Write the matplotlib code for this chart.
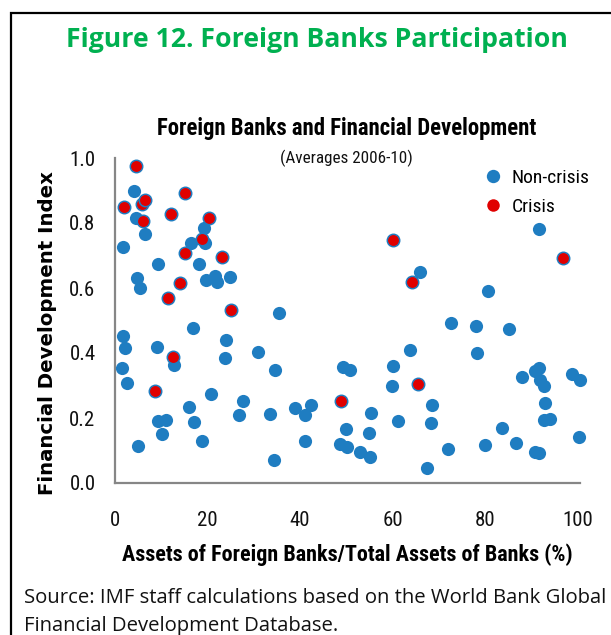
import matplotlib
matplotlib.use("Agg")
import matplotlib.pyplot as plt
from matplotlib import font_manager
from matplotlib.patches import Rectangle
from matplotlib.lines import Line2D

def pick(*names):
    avail = {f.name for f in font_manager.fontManager.ttflist}
    for n in names:
        if n in avail:
            return n
    return "DejaVu Sans"

NARROW = pick("Liberation Sans Narrow", "Roboto Condensed", "Open Sans Condensed", "Liberation Sans")
HUMAN = pick("Open Sans", "Lato", "Noto Sans")

# ---- data ----
noncrisis_x = [4.0, 4.5, 6.5, 19.2, 16.5, 19.4, 1.8, 9.2, 18.2, 4.7, 5.3, 19.7, 21.7, 22.0, 24.9,
               35.5, 16.8, 1.65, 2.2, 9.0, 12.7, 23.9, 23.8, 31.0, 34.5, 1.44, 2.7, 20.7, 27.6,
               26.9, 33.5, 16.0, 9.4, 11.0, 17.0, 10.2, 18.7, 4.9, 34.3, 65.9, 49.3, 50.8, 60.1,
               63.8, 59.8, 38.8, 42.3, 41.0, 55.4, 50.0, 55.0, 61.2, 41.0, 48.6, 50.1, 53.0, 55.1,
               67.5, 68.6, 68.4, 91.6, 80.6, 72.6, 78.1, 85.1, 78.3, 88.0, 90.7, 91.7, 91.9, 92.7,
               98.7, 100.4, 92.9, 92.7, 94.0, 83.7, 100.2, 71.9, 79.9, 86.7, 90.7, 91.7]
noncrisis_y = [0.90, 0.816, 0.766, 0.784, 0.738, 0.74, 0.727, 0.673, 0.675, 0.632, 0.599, 0.625,
               0.638, 0.617, 0.635, 0.524, 0.476, 0.453, 0.414, 0.419, 0.362, 0.44, 0.384, 0.404,
               0.348, 0.354, 0.307, 0.274, 0.252, 0.210, 0.212, 0.233, 0.192, 0.193, 0.189, 0.151,
               0.129, 0.115, 0.071, 0.648, 0.357, 0.348, 0.361, 0.408, 0.297, 0.231, 0.240, 0.208,
               0.214, 0.167, 0.153, 0.192, 0.130, 0.120, 0.112, 0.094, 0.079, 0.047, 0.239, 0.184,
               0.781, 0.592, 0.492, 0.484, 0.474, 0.399, 0.325, 0.346, 0.355, 0.317, 0.298, 0.336,
               0.318, 0.246, 0.193, 0.196, 0.168, 0.142, 0.105, 0.117, 0.124, 0.095, 0.091]
crisis_x = [4.5, 2.0, 5.8, 6.4, 15.1, 6.05, 12.2, 20.3, 18.9, 15.1, 23.2, 14.0, 11.5, 25.1, 12.5,
            8.6, 60.0, 64.1, 65.4, 48.8, 96.8]
crisis_y = [0.975, 0.85, 0.86, 0.87, 0.893, 0.806, 0.828, 0.816, 0.75, 0.707, 0.695, 0.614, 0.569,
            0.533, 0.389, 0.284, 0.748, 0.62, 0.305, 0.252, 0.693]
xticks = [0, 20, 40, 60, 80, 100]
yticks = [0.0, 0.2, 0.4, 0.6, 0.8, 1.0]
ytick_labels = ["0.0", "0.2", "0.4", "0.6", "0.8", "1.0"]

W, H = 611, 635
BLUE = "#1f7dc1"
RED = "#e00000"

fig = plt.figure(figsize=(W / 100, H / 100), dpi=100)

def fx(px):
    return px / W

def fy(py):
    return 1 - py / H

# frame
fig.patches.append(Rectangle((fx(11), fy(700)), 1.0, fy(13) - fy(700), transform=fig.transFigure,
                             fill=False, edgecolor="black", linewidth=1.6))

ax = fig.add_axes([fx(115), fy(483), (580 - 115) / W, (483 - 158) / H])
ax.scatter(noncrisis_x, noncrisis_y, s=90, color=BLUE, linewidths=0, zorder=3, clip_on=False)
ax.scatter(crisis_x, crisis_y, s=80, facecolor=RED, edgecolor=BLUE, linewidths=1.1, zorder=4,
           clip_on=False)
ax.set_xlim(0, 100.5)
ax.set_ylim(0, 1.0)
ax.set_xticks(xticks)
ax.set_xticklabels([str(t) for t in xticks])
ax.set_yticks(yticks)
ax.set_yticklabels(ytick_labels)
for s in ["top", "right"]:
    ax.spines[s].set_visible(False)
for s in ["left", "bottom"]:
    ax.spines[s].set_color("#868686")
    ax.spines[s].set_linewidth(1.6)
ax.tick_params(axis="both", length=0, labelsize=15, colors="#111111")
ax.tick_params(axis="y", pad=14)
ax.tick_params(axis="x", pad=20)
for lab in ax.get_xticklabels() + ax.get_yticklabels():
    lab.set_family(NARROW)

# legend
handles = [Line2D([], [], marker="o", linestyle="none", markersize=9.6, markerfacecolor=BLUE,
                  markeredgewidth=0),
           Line2D([], [], marker="o", linestyle="none", markersize=9.0, markerfacecolor=RED,
                  markeredgecolor=RED, markeredgewidth=0)]
leg = ax.legend(handles, ["Non-crisis", "Crisis"], loc="upper left",
                bbox_to_anchor=((474 - 115) / 465, (483 - 161) / 325), frameon=False,
                handletextpad=0.35, labelspacing=0.56, borderaxespad=0, handlelength=1.2,
                prop={"family": NARROW, "size": 14})

# texts
fig.text(fx(317), fy(40), "Figure 12. Foreign Banks Participation", color="#00b050",
         fontsize=19.2, fontweight="bold", family=HUMAN, ha="center", va="center")
fig.text(fx(347), fy(128), "Foreign Banks and Financial Development", color="black",
         fontsize=16.4, fontweight="bold", family=NARROW, ha="center", va="center")
fig.text(fx(346), fy(158), "(Averages 2006-10)", color="#111111",
         fontsize=12.3, family=NARROW, ha="center", va="center")
fig.text(fx(48), fy(333), "Financial Development Index", color="black", rotation=90,
         fontsize=14.2, fontweight="bold", family="DejaVu Sans", ha="center", va="center")
fig.text(fx(347), fy(555), "Assets of Foreign Banks/Total Assets of Banks (%)", color="black",
         fontsize=15.9, fontweight="bold", family=NARROW, ha="center", va="center")
fig.text(fx(24), fy(598), "Source: IMF staff calculations based on the World Bank Global",
         color="#111111", fontsize=14.6, family=HUMAN, ha="left", va="center")
fig.text(fx(24), fy(626), "Financial Development Database.",
         color="#111111", fontsize=14.6, family=HUMAN, ha="left", va="center")

fig.savefig("out.png", dpi=100)
